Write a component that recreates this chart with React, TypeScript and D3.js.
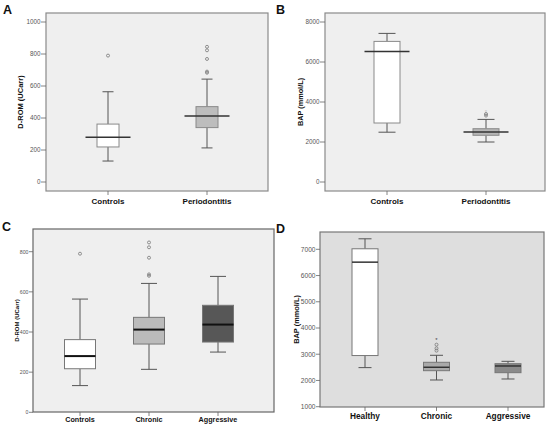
import React from "react";
import * as d3 from "d3";

// ---------- DATA ----------
// [whiskerLow, q1, median, q3, whiskerHigh]
const groupsAB = ["Controls", "Periodontitis"];
const dromA_stats = [
  [131, 219, 280, 362, 564],
  [213, 340, 412, 471, 643],
];
const dromA_outliers = [[790], [683, 690, 769, 823, 845]];
const dromTicksA = [0, 200, 400, 600, 800, 1000];

const bapB_stats = [
  [2490, 2950, 6530, 7030, 7430],
  [2000, 2335, 2500, 2665, 3130],
];
const bapB_outliers = [[], [3320, 3400]];
const bapB_extremes = [[], [3600]];
const bapTicksB = [0, 2000, 4000, 6000, 8000];

const groupsC = ["Controls", "Chronic", "Aggressive"];
const dromC_stats = [
  [133, 217, 280, 362, 564],
  [214, 340, 412, 473, 642],
  [300, 350, 437, 533, 677],
];
const dromC_outliers = [[790], [680, 687, 770, 822, 846], []];
const dromTicksC = [0, 200, 400, 600, 800];

const groupsD = ["Healthy", "Chronic", "Aggressive"];
const bapD_stats = [
  [2490, 2950, 6510, 7020, 7400],
  [2018, 2373, 2503, 2693, 2960],
  [2056, 2297, 2552, 2640, 2730],
];
const bapD_outliers = [[], [3136, 3226, 3365], []];
const bapD_extremes = [[], [3620], []];
const bapTicksD = [1000, 2000, 3000, 4000, 5000, 6000, 7000];

const FONT = "'Liberation Sans', Arial, sans-serif";

type PanelProps = {
  letter: string;
  letterPos: [number, number];
  frame: { x0: number; x1: number; y0: number; y1: number };
  catRange: [number, number];
  cats: string[];
  domain: [number, number];
  yRange: [number, number];
  ticks: number[];
  stats: number[][];
  outliers: number[][];
  extremes?: number[][];
  extremeColor?: string;
  fills: string[];
  bg: string;
  boxW: number;
  medW: number;
  capW: number;
  medColor: string;
  medWidth: number;
  boxStroke: string;
  yLabel: string;
  yLabelX: number;
  yLabelSize: number;
  tickSize: number;
  tickLen: number;
  catSize: number;
  catY: number;
  frameStroke: string;
};

function Panel(p: PanelProps) {
  const x = d3.scalePoint<string>().domain(p.cats).range(p.catRange);
  const y = d3.scaleLinear().domain(p.domain).range(p.yRange);
  const { x0, x1, y0, y1 } = p.frame;
  return (
    <g>
      <text x={p.letterPos[0]} y={p.letterPos[1]} fontFamily={FONT} fontWeight="bold" fontSize={12.5} fill="#111">
        {p.letter}
      </text>
      <rect x={x0} y={y0} width={x1 - x0} height={y1 - y0} fill={p.bg} stroke={p.frameStroke} strokeWidth={1.2} />
      {p.ticks.map((t) => (
        <g key={t}>
          <line x1={x0 - p.tickLen} x2={x0} y1={y(t)} y2={y(t)} stroke="#666" strokeWidth={0.8} />
          <text x={x0 - p.tickLen - 0.5} y={y(t)} dy="0.35em" textAnchor="end" fontFamily={FONT} fontSize={p.tickSize} fill="#555">
            {t}
          </text>
        </g>
      ))}
      <text
        transform={`translate(${p.yLabelX},${(y0 + y1) / 2}) rotate(-90)`}
        textAnchor="middle"
        dy="0.35em"
        fontFamily={FONT}
        fontWeight="bold"
        fontSize={p.yLabelSize}
        fill="#111"
      >
        {p.yLabel}
      </text>
      {p.cats.map((c, i) => {
        const cx = x(c) as number;
        const [lo, q1, med, q3, hi] = p.stats[i];
        return (
          <g key={c}>
            <line x1={cx} x2={cx} y1={y1} y2={y1 + 4} stroke="#666" strokeWidth={0.8} />
            <text x={cx} y={p.catY} textAnchor="middle" fontFamily={FONT} fontWeight="bold" fontSize={p.catSize} fill="#111">
              {c}
            </text>
            <line x1={cx} x2={cx} y1={y(hi)} y2={y(q3)} stroke="#555" strokeWidth={1} />
            <line x1={cx} x2={cx} y1={y(q1)} y2={y(lo)} stroke="#555" strokeWidth={1} />
            <line x1={cx - p.capW / 2} x2={cx + p.capW / 2} y1={y(hi)} y2={y(hi)} stroke="#555" strokeWidth={1} />
            <line x1={cx - p.capW / 2} x2={cx + p.capW / 2} y1={y(lo)} y2={y(lo)} stroke="#555" strokeWidth={1} />
            <rect
              x={cx - p.boxW / 2}
              y={y(q3)}
              width={p.boxW}
              height={y(q1) - y(q3)}
              fill={p.fills[i]}
              stroke={p.boxStroke}
              strokeWidth={1}
            />
            <line
              x1={cx - p.medW / 2}
              x2={cx + p.medW / 2}
              y1={y(med)}
              y2={y(med)}
              stroke={p.medColor}
              strokeWidth={p.medWidth}
            />
            {p.outliers[i].map((o, k) => (
              <circle key={k} cx={cx} cy={y(o)} r={1.5} fill="none" stroke="#777" strokeWidth={0.8} />
            ))}
            {(p.extremes ? p.extremes[i] : []).map((o, k) => (
              <text
                key={"e" + k}
                x={cx}
                y={y(o)}
                dy="0.6em"
                textAnchor="middle"
                fontFamily={FONT}
                fontSize={6}
                fill={p.extremeColor || "#555"}
              >
                *
              </text>
            ))}
          </g>
        );
      })}
    </g>
  );
}

export default function App() {
  return (
    <svg width={554} height={427} style={{ position: "absolute", left: 0, top: 0, background: "#fff" }}>
      <Panel
        letter="A"
        letterPos={[3, 14]}
        frame={{ x0: 46, x1: 268, y0: 13, y1: 191 }}
        catRange={[108, 207]}
        cats={groupsAB}
        domain={[0, 1000]}
        yRange={[182, 22]}
        ticks={dromTicksA}
        stats={dromA_stats}
        outliers={dromA_outliers}
        fills={["#ffffff", "#bdbdbd"]}
        bg="#efefef"
        boxW={22}
        medW={45}
        capW={11}
        medColor="#333"
        medWidth={1.5}
        boxStroke="#8a8a8a"
        yLabel="D-ROM (UCarr)"
        yLabelX={20.5}
        yLabelSize={7.5}
        tickSize={6.3}
        tickLen={5}
        catSize={8}
        catY={204}
        frameStroke="#8a8a8a"
      />
      <Panel
        letter="B"
        letterPos={[276, 14]}
        frame={{ x0: 325, x1: 545, y0: 13, y1: 191 }}
        catRange={[387, 486]}
        cats={groupsAB}
        domain={[0, 8000]}
        yRange={[182, 22]}
        ticks={bapTicksB}
        stats={bapB_stats}
        outliers={bapB_outliers}
        extremes={bapB_extremes}
        extremeColor="#c4c4c4"
        fills={["#ffffff", "#b5b5b5"]}
        bg="#efefef"
        boxW={26}
        medW={45}
        capW={17}
        medColor="#333"
        medWidth={1.5}
        boxStroke="#8a8a8a"
        yLabel="BAP (mmol/L)"
        yLabelX={300}
        yLabelSize={7.3}
        tickSize={6.3}
        tickLen={5}
        catSize={8}
        catY={204}
        frameStroke="#8a8a8a"
      />
      <Panel
        letter="C"
        letterPos={[2, 231]}
        frame={{ x0: 33, x1: 274, y0: 229, y1: 412 }}
        catRange={[80, 218]}
        cats={groupsC}
        domain={[0, 800]}
        yRange={[412.3, 251.7]}
        ticks={dromTicksC}
        stats={dromC_stats}
        outliers={dromC_outliers}
        fills={["#ffffff", "#bbbbbb", "#575757"]}
        bg="#efefef"
        boxW={31}
        medW={31}
        capW={16}
        medColor="#111"
        medWidth={2}
        boxStroke="#777"
        yLabel="D-ROM (UCarr)"
        yLabelX={16.5}
        yLabelSize={6}
        tickSize={5.2}
        tickLen={4}
        catSize={7.2}
        catY={422}
        frameStroke="#666"
      />
      <Panel
        letter="D"
        letterPos={[276, 233]}
        frame={{ x0: 320, x1: 544, y0: 232, y1: 407 }}
        catRange={[365, 508]}
        cats={groupsD}
        domain={[1000, 7000]}
        yRange={[406.7, 249.3]}
        ticks={bapTicksD}
        stats={bapD_stats}
        outliers={bapD_outliers}
        extremes={bapD_extremes}
        extremeColor="#444"
        fills={["#ffffff", "#a9a9a9", "#8a8a8a"]}
        bg="#dedede"
        boxW={26}
        medW={26}
        capW={13}
        medColor="#333"
        medWidth={1.5}
        boxStroke="#777"
        yLabel="BAP (mmol/L)"
        yLabelX={296}
        yLabelSize={7.4}
        tickSize={6.6}
        tickLen={4}
        catSize={8.3}
        catY={419}
        frameStroke="#777"
      />
    </svg>
  );
}
